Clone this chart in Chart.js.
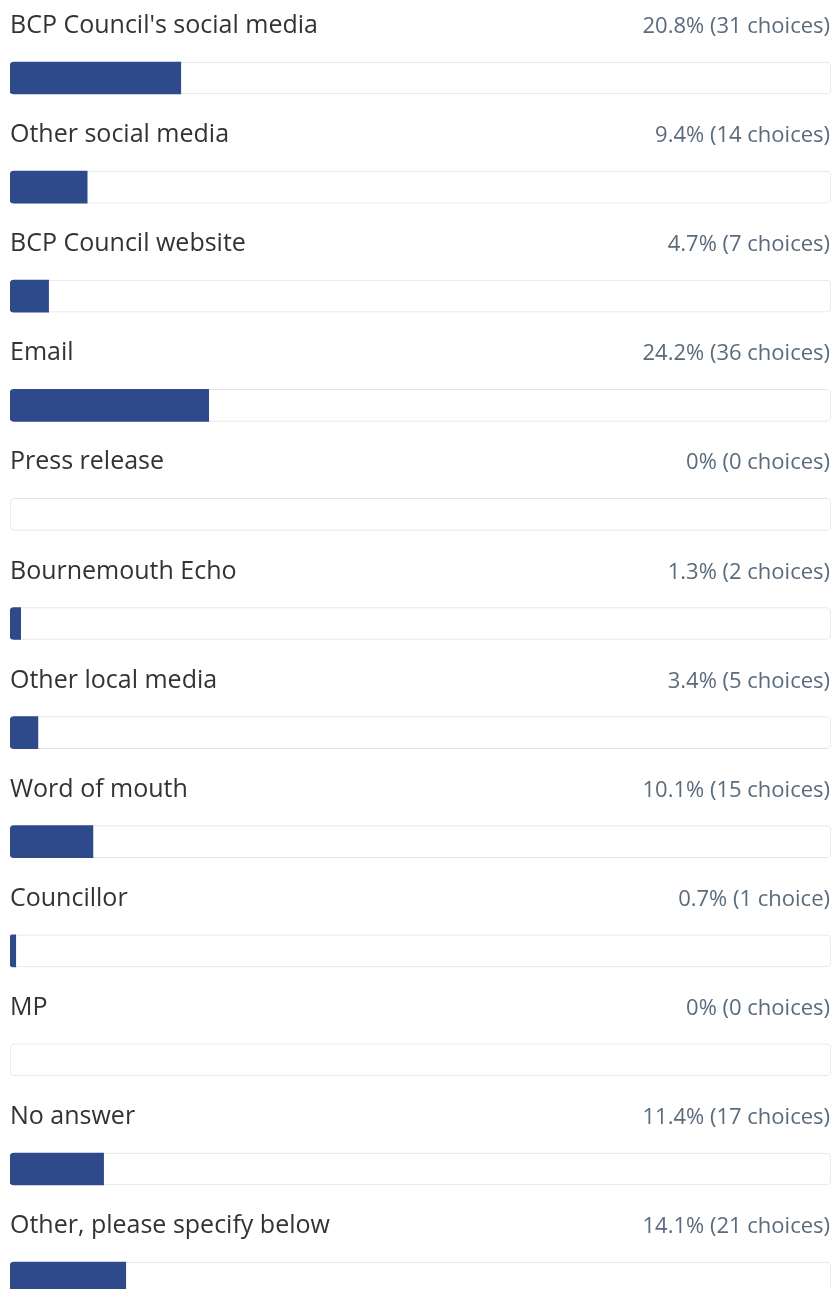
<!DOCTYPE html>
<html>
<head>
<meta charset="utf-8">
<script src="https://cdn.jsdelivr.net/npm/chart.js@4/dist/chart.umd.min.js"></script>
<style>
  html, body { margin: 0; padding: 0; background: #ffffff; overflow: hidden; }
  #wrap { width: 832px; height: 1340px; }
</style>
</head>
<body>
<div id="wrap"><canvas id="c" width="832" height="1340"></canvas></div>
<script>
// Survey answers: how respondents heard about the consultation
const categories = [
  "BCP Council's social media",
  "Other social media",
  "BCP Council website",
  "Email",
  "Press release",
  "Bournemouth Echo",
  "Other local media",
  "Word of mouth",
  "Councillor",
  "MP",
  "No answer",
  "Other, please specify below"
];
const percents = [20.8, 9.4, 4.7, 24.2, 0, 1.3, 3.4, 10.1, 0.7, 0, 11.4, 14.1];
const counts = [31, 14, 7, 36, 0, 2, 5, 15, 1, 0, 17, 21];
const trackValues = categories.map(() => 100);

const LABEL_FONT = '400 25px "Open Sans", sans-serif';
const VALUE_FONT = '400 22px "Open Sans", sans-serif';

// Row captions above each bar: answer on the left, share and count on the right
const rowText = {
  id: 'rowText',
  afterDatasetsDraw(chart) {
    const ctx = chart.ctx;
    const yScale = chart.scales.y;
    ctx.save();
    ctx.textBaseline = 'alphabetic';
    categories.forEach((name, i) => {
      const yc = yScale.getPixelForValue(i);
      const base = yc - 45;
      ctx.font = LABEL_FONT;
      ctx.fillStyle = '#333333';
      ctx.textAlign = 'left';
      ctx.fillText(name, 10, base);
      ctx.font = VALUE_FONT;
      ctx.fillStyle = '#5a6b7c';
      ctx.textAlign = 'right';
      const word = counts[i] === 1 ? 'choice' : 'choices';
      ctx.fillText(percents[i] + '% (' + counts[i] + ' ' + word + ')', 830, base);
    });
    ctx.restore();
  }
};

new Chart(document.getElementById('c'), {
  type: 'bar',
  data: {
    labels: categories,
    datasets: [
      {
        label: 'share',
        data: percents,
        backgroundColor: (c) => (c.raw > 0 ? '#2f4a8a' : 'rgba(0,0,0,0)'),
        borderWidth: 0,
        borderSkipped: false,
        borderRadius: { topLeft: 4, bottomLeft: 4, topRight: 0, bottomRight: 0 },
        barThickness: 32,
        grouped: false,
        order: 1
      },
      {
        label: 'track',
        data: trackValues,
        backgroundColor: '#ffffff',
        borderColor: '#e3e3e3',
        borderWidth: 1,
        borderSkipped: false,
        borderRadius: 5,
        barThickness: 32,
        grouped: false,
        order: 2
      }
    ]
  },
  options: {
    indexAxis: 'y',
    responsive: false,
    animation: false,
    devicePixelRatio: 1,
    layout: { padding: { left: 10, right: 1, top: 23.45, bottom: 7.35 } },
    scales: {
      x: { display: false, min: 0, max: 100 },
      y: { display: false }
    },
    plugins: {
      legend: { display: false },
      tooltip: { enabled: false }
    }
  },
  plugins: [rowText]
});
</script>
</body>
</html>
